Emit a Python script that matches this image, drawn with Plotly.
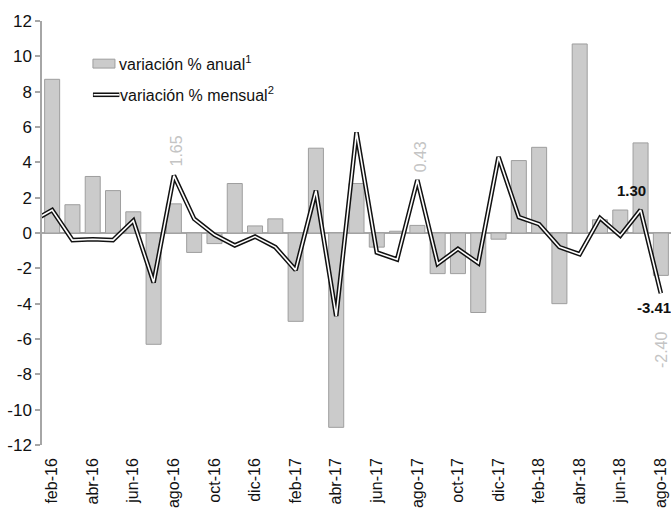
import plotly.graph_objects as go

# Months (ene-16 is only partly visible at the left edge, as the start of the line)
months = ["ene-16", "feb-16", "mar-16", "abr-16", "may-16", "jun-16", "jul-16", "ago-16",
          "sep-16", "oct-16", "nov-16", "dic-16",
          "ene-17", "feb-17", "mar-17", "abr-17", "may-17", "jun-17", "jul-17", "ago-17",
          "sep-17", "oct-17", "nov-17", "dic-17",
          "ene-18", "feb-18", "mar-18", "abr-18", "may-18", "jun-18", "jul-18", "ago-18"]

# variación % anual (bars)
anual = [None, 8.7, 1.6, 3.2, 2.4, 1.2, -6.3, 1.65, -1.1, -0.6, 2.8, 0.4,
         0.8, -5.0, 4.8, -11.0, 2.8, -0.8, 0.1, 0.43, -2.3, -2.3, -4.5, -0.35,
         4.1, 4.85, -4.0, 10.7, 0.75, 1.3, 5.1, -2.40]

# variación % mensual (line)
mensual = [0.65, 1.3, -0.4, -0.35, -0.4, 0.7, -2.8, 3.25, 0.8, -0.1, -0.7, -0.2,
           -0.8, -2.1, 2.4, -4.7, 5.7, -1.1, -1.5, 3.0, -1.75, -0.9, -1.7, 4.3,
           0.9, 0.5, -0.8, -1.2, 0.85, -0.15, 1.30, -3.41]

tick_labels = months[1::2]
yticks = list(range(-12, 13, 2))

anual_labels = ["ago-16", "ago-17", "ago-18"]
mensual_labels = ["jul-18", "ago-18"]

FONT = "Liberation Sans, Arial, sans-serif"

fig = go.Figure()
fig.add_trace(go.Bar(
    x=months, y=anual, name="variación % anual",
    marker=dict(color="#cbcbcb", line=dict(color="#9e9e9e", width=1)),
    showlegend=False,
))
fig.add_trace(go.Scatter(
    x=months, y=mensual, mode="lines", name="variación % mensual",
    line=dict(color="#111111", width=4.6), showlegend=False,
))
fig.add_trace(go.Scatter(
    x=months, y=mensual, mode="lines", hoverinfo="skip",
    line=dict(color="#ffffff", width=1.6), showlegend=False,
))

annotations = []
# grey rotated labels of the annual bars, placed above/below the line points
gshift = {"ago-16": (3, 25), "ago-17": (3, 23), "ago-18": (0, -56)}
for m in anual_labels:
    i = months.index(m)
    annotations.append(dict(
        x=m, y=mensual[i], xref="x", yref="y", text=f"{anual[i]:.2f}",
        showarrow=False, textangle=-90, xanchor="center", yanchor="middle",
        xshift=gshift[m][0], yshift=gshift[m][1],
        font=dict(family=FONT, size=16, color="#c4c4c4"),
    ))
lshift = {"jul-18": (-9, 20), "ago-18": (-7, -14)}
for m in mensual_labels:
    i = months.index(m)
    annotations.append(dict(
        x=m, y=mensual[i], xref="x", yref="y", text=f"<b>{mensual[i]:.2f}</b>",
        showarrow=False, xanchor="center", yanchor="middle",
        xshift=lshift[m][0], yshift=lshift[m][1],
        font=dict(family=FONT, size=15, color="#111111"),
    ))

# custom legend
annotations.append(dict(x=0.119, y=0.900, xref="paper", yref="paper",
                        text="variación % anual<sup>1</sup>", showarrow=False,
                        xanchor="left", yanchor="middle",
                        font=dict(family=FONT, size=16, color="#111111")))
annotations.append(dict(x=0.121, y=0.827, xref="paper", yref="paper",
                        text="variación % mensual<sup>2</sup>", showarrow=False,
                        xanchor="left", yanchor="middle",
                        font=dict(family=FONT, size=16, color="#111111")))
shapes = [
    dict(type="rect", xref="paper", yref="paper", x0=0.081, x1=0.116, y0=0.889, y1=0.910,
         fillcolor="#cbcbcb", line=dict(color="#9e9e9e", width=1)),
    dict(type="line", xref="paper", yref="paper", x0=0.081, x1=0.123, y0=0.826, y1=0.826,
         line=dict(color="#111111", width=4.6)),
    dict(type="line", xref="paper", yref="paper", x0=0.082, x1=0.123, y0=0.826, y1=0.826,
         line=dict(color="#ffffff", width=1.6)),
]

fig.update_layout(
    width=671, height=508,
    margin=dict(l=42, r=0, t=21, b=63),
    paper_bgcolor="white", plot_bgcolor="white",
    bargap=0.26,
    annotations=annotations, shapes=shapes,
    font=dict(family=FONT, size=17, color="#111111"),
)
fig.update_xaxes(
    type="category", range=[0.5, len(months) - 0.5],
    tickmode="array", tickvals=tick_labels, ticktext=tick_labels,
    tickangle=-90, ticks="", showgrid=False, showline=False,
    ticklabelstandoff=9, tickfont=dict(family=FONT, size=16, color="#111111"),
)
fig.update_yaxes(
    range=[-12, 12], tickvals=yticks, ticktext=[str(v) for v in yticks],
    showgrid=False, showline=True, linecolor="#a6a6a6", linewidth=1.5,
    ticks="outside", ticklen=5, tickcolor="#a6a6a6", tickwidth=1.5,
    zeroline=True, zerolinecolor="#a6a6a6", zerolinewidth=1.5,
    tickfont=dict(family=FONT, size=17, color="#111111"),
)

fig.write_html("out.html", config={"displayModeBar": False},
               post_script="document.body.style.margin='0';document.body.style.overflow='hidden';")
